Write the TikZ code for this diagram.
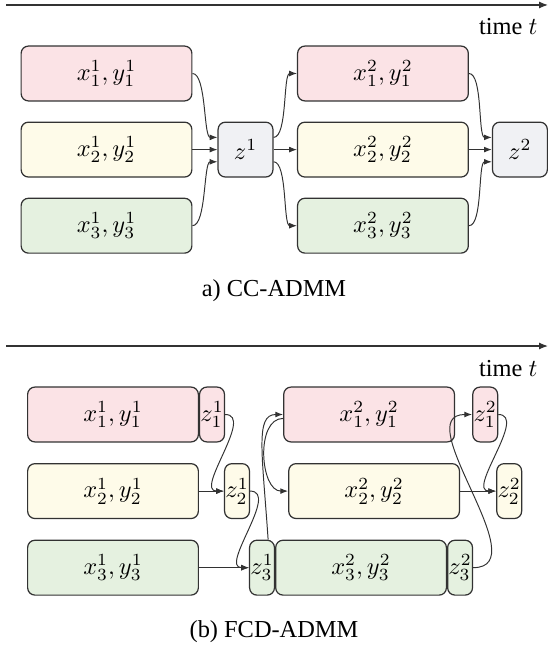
\documentclass[tikz,border=0pt]{standalone}
\usepackage[no-math]{fontspec}
\setmainfont{Liberation Serif}
\usepackage{tikz}
\usetikzlibrary{arrows.meta, positioning}
\definecolor{agentred}{RGB}{251,227,230}
\definecolor{agentyellow}{RGB}{254,251,233}
\definecolor{agentgreen}{RGB}{229,241,224}
\definecolor{consgray}{RGB}{240,241,244}
\definecolor{edgegray}{RGB}{50,50,50}

\begin{document}
\begin{tikzpicture}[
  x=0.41pt, y=-0.41pt,
  agent/.style={
    rectangle, rounded corners=3pt,
    draw=edgegray, line width=0.5pt,
    minimum width=70pt, minimum height=22.5pt,
    inner sep=0pt
  },
  cons/.style={agent, fill=consgray, minimum width=22.5pt},
  zloc/.style={agent, minimum width=10.2pt},
  flow/.style={-{Latex[length=3.2pt,width=2.4pt]}, line width=0.4pt, edgegray},
  timeline/.style={-{Latex[length=3.6pt,width=2.8pt]}, line width=0.5pt, edgegray}
]
\useasboundingbox (0,0) rectangle (548,653);

% ---------- a) central coordinator ----------
\coordinate (tA0) at (6,5);
\coordinate (tA1) at (548,5);
\draw[timeline] (tA0) -- (tA1);
\node[anchor=base east] (timeA) at (546,35) {time $t$};

\node[agent, fill=agentred] (x11) at (106.5,73.5) {$x_1^1, y_1^1$};
\node[agent, fill=agentyellow, below=8.2pt of x11] (x21) {$x_2^1, y_2^1$};
\node[agent, fill=agentgreen, below=8.2pt of x21] (x31) {$x_3^1, y_3^1$};

\node[cons, right=10.25pt of x21] (z1) {$z^1$};

\node[agent, fill=agentyellow, right=9.6pt of z1] (x22) {$x_2^2, y_2^2$};
\node[agent, fill=agentred, above=8.2pt of x22] (x12) {$x_1^2, y_1^2$};
\node[agent, fill=agentgreen, below=8.2pt of x22] (x32) {$x_3^2, y_3^2$};

\node[cons, right=9.4pt of x22] (z2) {$z^2$};

\foreach \src/\dst/\dy in {x11/z1/5pt, x31/z1/-5pt, x12/z2/5pt, x32/z2/-5pt}
  \draw[flow] (\src.east) .. controls +(14,0) and +(-14,0) .. ([yshift=\dy]\dst.west);
\foreach \dst/\dy in {x12/5pt, x32/-5pt}
  \draw[flow] ([yshift=\dy]z1.east) .. controls +(14,0) and +(-14,0) .. (\dst.west);
\foreach \from/\to in {x21/z1, z1/x22, x22/z2}
  \draw[flow] (\from) -- (\to);

\node (capA) at (274,291) {a) CC-ADMM};

% ---------- (b) fully distributed ----------
\coordinate (tB0) at (6,346);
\coordinate (tB1) at (548,346);
\draw[timeline] (tB0) -- (tB1);
\node[anchor=base east] (timeB) at (546,376) {time $t$};

\node[agent, fill=agentred] (bx11) at (113,414.5) {$x_1^1, y_1^1$};
\node[agent, fill=agentyellow, below=8.4pt of bx11] (bx21) {$x_2^1, y_2^1$};
\node[agent, fill=agentgreen, below=8.4pt of bx21] (bx31) {$x_3^1, y_3^1$};

\node[zloc, fill=agentred, right=0pt of bx11] (bz11) {$z_1^1$};
\node[zloc, fill=agentyellow, right=10.25pt of bx21] (bz21) {$z_2^1$};
\node[zloc, fill=agentgreen, right=20.5pt of bx31] (bz31) {$z_3^1$};

\node[agent, fill=agentred, right=23.8pt of bz11] (bx12) {$x_1^2, y_1^2$};
\node[agent, fill=agentyellow, right=15.6pt of bz21] (bx22) {$x_2^2, y_2^2$};
\node[agent, fill=agentgreen, right=0pt of bz31] (bx32) {$x_3^2, y_3^2$};

\node[zloc, fill=agentred, right=7pt of bx12] (bz12) {$z_1^2$};
\node[zloc, fill=agentyellow, right=14.8pt of bx22] (bz22) {$z_2^2$};
\node[zloc, fill=agentgreen, right=0pt of bx32] (bz32) {$z_3^2$};

% pass the local z down the chain
\foreach \from/\to in {bz11/bz21, bz21/bz31, bz12/bz22}
  \draw[flow] (\from.east) .. controls +(30,0) and +(-30,0) .. (\to.west);
\foreach \from/\to in {bx21/bz21, bx31/bz31, bx22/bz22}
  \draw[flow] (\from) -- (\to);

\draw[flow] ([xshift=2.5pt]bz31.north) .. controls +(-6,-88) and +(-28,0) .. (bx12.west);
\draw[flow] ([yshift=-1.6pt]bx12.west) .. controls +(-28,0) and +(-28,0) .. (bx22.west);
\draw[flow] (bz32.east) .. controls +(65,0) and +(-65,0) .. (bz12.west);

\node (capB) at (274,632) {(b) FCD-ADMM};
\end{tikzpicture}
\end{document}
